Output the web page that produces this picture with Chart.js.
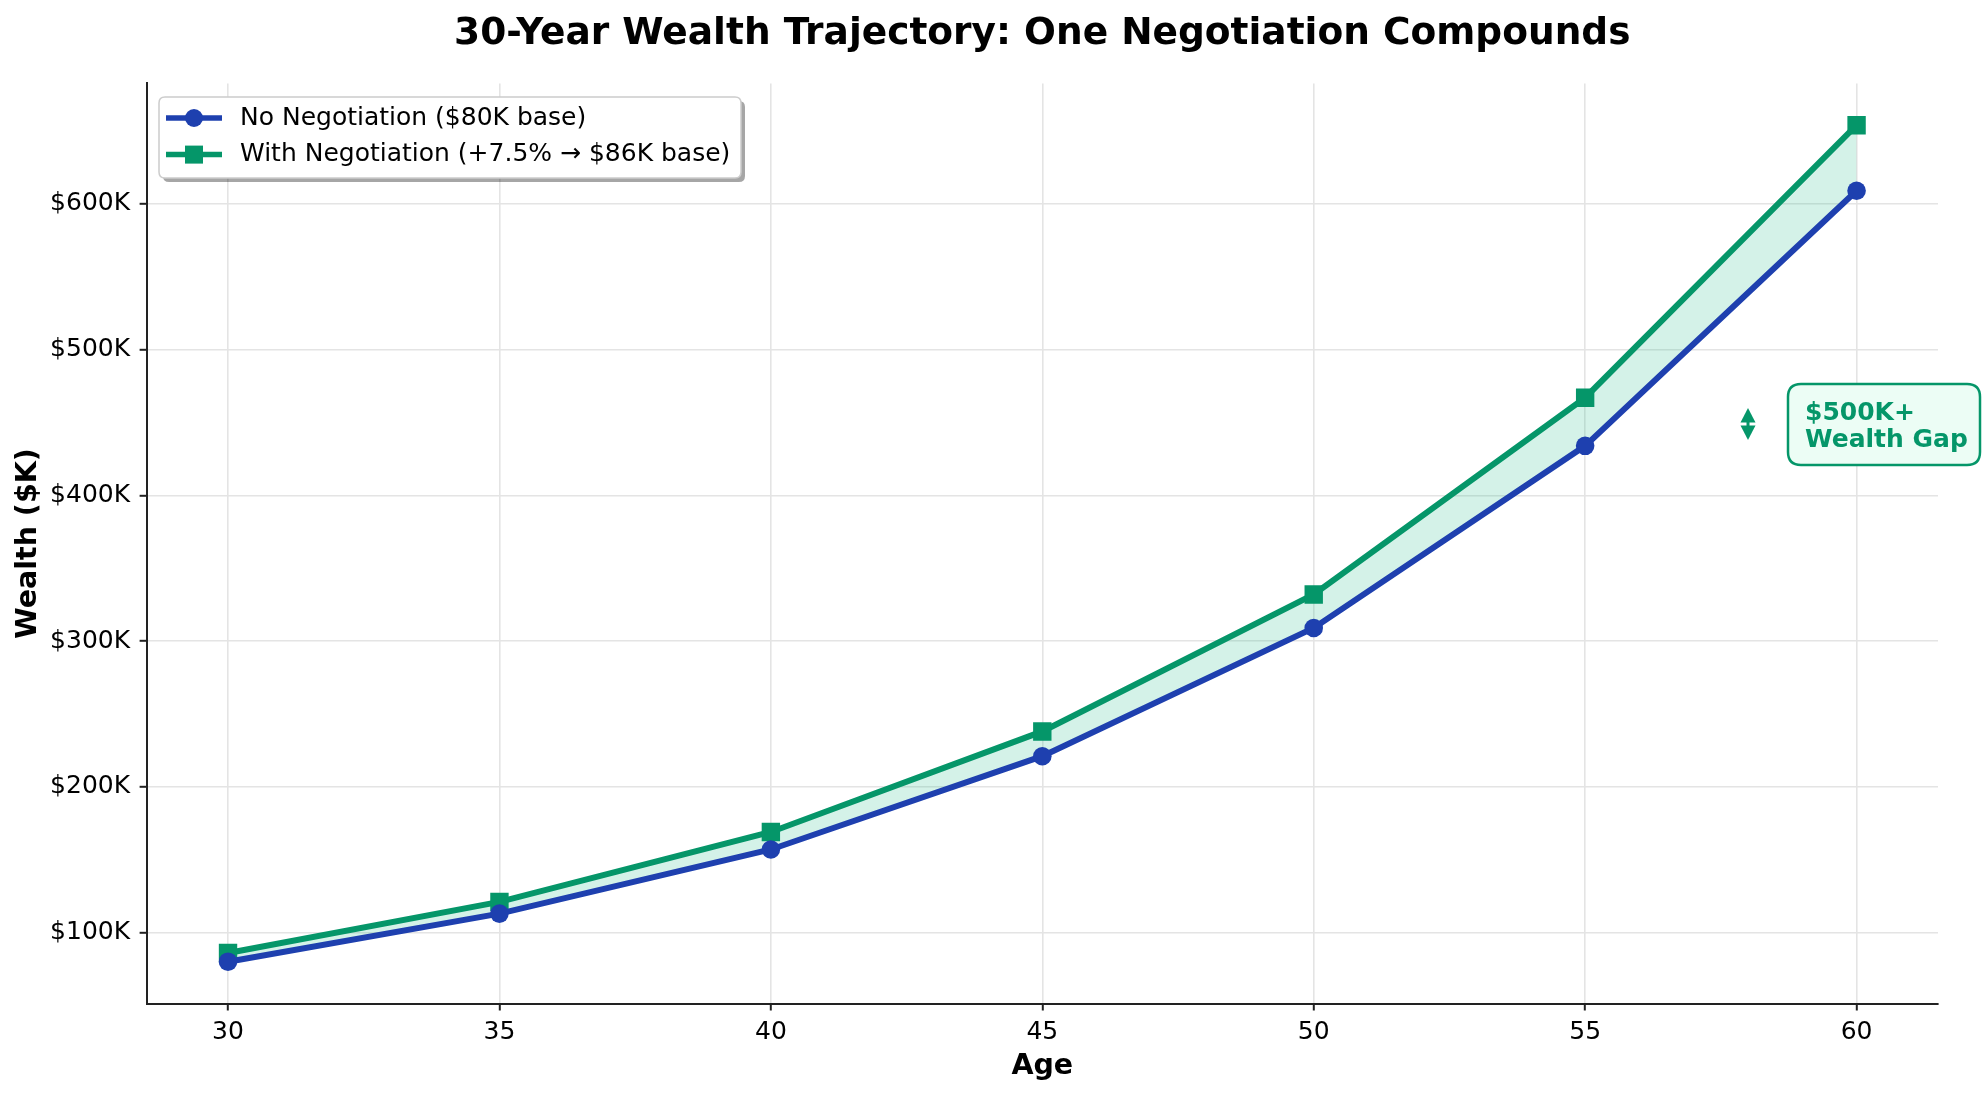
<!DOCTYPE html>
<html><head><meta charset="utf-8">
<script src="https://cdn.jsdelivr.net/npm/chart.js@4/dist/chart.umd.min.js"></script>
<style>html,body{margin:0;padding:0;background:#fff;} canvas{display:block;}</style>
</head><body>
<canvas id="c" width="1982" height="1094"></canvas>
<script>
const ages = [30, 35, 40, 45, 50, 55, 60];
const noNegotiation = [80, 113, 157, 221, 309, 434, 609];
const withNegotiation = [86, 121, 169, 238, 332, 467, 654];
const xTicks = [30, 35, 40, 45, 50, 55, 60];
const yTicks = [100, 200, 300, 400, 500, 600];
const seriesLabels = ['No Negotiation ($80K base)', 'With Negotiation (+7.5% \u2192 $86K base)'];
const titleText = '30-Year Wealth Trajectory: One Negotiation Compounds';
const xLabel = 'Age';
const yLabel = 'Wealth ($K)';
const gapArrowAge = 58;
const gapArrowRange = [438, 460];
const gapLabel = ['$500K+', 'Wealth Gap'];

const BLUE = '#1e40af', GREEN = '#059669', FONT = '"DejaVu Sans", sans-serif';

function roundRect(ctx, x, y, w, h, r) {
  ctx.beginPath();
  ctx.moveTo(x + r, y);
  ctx.lineTo(x + w - r, y); ctx.quadraticCurveTo(x + w, y, x + w, y + r);
  ctx.lineTo(x + w, y + h - r); ctx.quadraticCurveTo(x + w, y + h, x + w - r, y + h);
  ctx.lineTo(x + r, y + h); ctx.quadraticCurveTo(x, y + h, x, y + h - r);
  ctx.lineTo(x, y + r); ctx.quadraticCurveTo(x, y, x + r, y);
  ctx.closePath();
}

const overlay = {
  id: 'overlay',
  afterDraw(chart) {
    const ctx = chart.ctx, ca = chart.chartArea, xs = chart.scales.x, ys = chart.scales.y;
    const cx = (ca.left + ca.right) / 2, cy = (ca.top + ca.bottom) / 2;
    ctx.save();
    // title
    ctx.fillStyle = '#000';
    ctx.textAlign = 'center'; ctx.textBaseline = 'alphabetic';
    ctx.font = 'bold 37.5px ' + FONT;
    ctx.fillText(titleText, cx, 44);
    // axis labels
    ctx.font = 'bold 28.5px ' + FONT;
    ctx.fillText(xLabel, cx, 1074);
    ctx.save();
    ctx.translate(36, cy); ctx.rotate(-Math.PI / 2);
    ctx.fillText(yLabel, 0, 0);
    ctx.restore();

    // legend
    const lx = 159, ly = 97, lw = 582, lh = 81;
    ctx.fillStyle = 'rgba(0,0,0,0.35)';
    roundRect(ctx, lx + 4, ly + 4, lw, lh, 6); ctx.fill();
    ctx.fillStyle = '#fff';
    roundRect(ctx, lx, ly, lw, lh, 6); ctx.fill();
    ctx.strokeStyle = '#cccccc'; ctx.lineWidth = 1.5; ctx.stroke();
    const rows = [118, 154.6];
    chart.data.datasets.forEach((ds, i) => {
      const y = rows[i];
      ctx.strokeStyle = ds.borderColor; ctx.lineWidth = 5.5;
      ctx.beginPath(); ctx.moveTo(166, y); ctx.lineTo(222, y); ctx.stroke();
      ctx.fillStyle = ds.borderColor;
      if (ds.pointStyle === 'rect') {
        ctx.fillRect(194 - 9, y - 9, 18, 18);
      } else {
        ctx.beginPath(); ctx.arc(194, y, 9, 0, Math.PI * 2); ctx.fill();
      }
      ctx.fillStyle = '#000'; ctx.font = '25px ' + FONT;
      ctx.textAlign = 'left'; ctx.textBaseline = 'middle';
      ctx.fillText(ds.label, 240, y);
    });

    // gap arrow
    const ax = xs.getPixelForValue(gapArrowAge);
    const yTop = ys.getPixelForValue(gapArrowRange[1]);
    const yBot = ys.getPixelForValue(gapArrowRange[0]);
    const mid = (yTop + yBot) / 2;
    ctx.fillStyle = GREEN; ctx.strokeStyle = GREEN; ctx.lineWidth = 3;
    ctx.beginPath(); ctx.moveTo(ax, yTop); ctx.lineTo(ax + 7.5, mid - 1.5); ctx.lineTo(ax - 7.5, mid - 1.5); ctx.closePath(); ctx.fill();
    ctx.beginPath(); ctx.moveTo(ax, yBot); ctx.lineTo(ax + 7.5, mid + 1.5); ctx.lineTo(ax - 7.5, mid + 1.5); ctx.closePath(); ctx.fill();
    ctx.beginPath(); ctx.moveTo(ax, mid - 3); ctx.lineTo(ax, mid + 3); ctx.stroke();

    // gap label box
    const bx = ax + 40, by = mid - 40, bw = 192, bh = 81;
    ctx.fillStyle = '#ecfdf5';
    roundRect(ctx, bx, by, bw, bh, 13); ctx.fill();
    ctx.strokeStyle = GREEN; ctx.lineWidth = 2.5; ctx.stroke();
    ctx.fillStyle = GREEN; ctx.font = 'bold 25px ' + FONT;
    ctx.textAlign = 'left'; ctx.textBaseline = 'alphabetic';
    ctx.fillText(gapLabel[0], bx + 17, by + 36);
    ctx.fillText(gapLabel[1], bx + 17, by + 63);
    ctx.restore();
  }
};

new Chart(document.getElementById('c'), {
  type: 'line',
  data: {
    datasets: [
      {
        label: seriesLabels[0],
        data: ages.map((a, i) => ({ x: a, y: noNegotiation[i] })),
        borderColor: BLUE, backgroundColor: BLUE,
        borderWidth: 6, pointStyle: 'circle', pointRadius: 9.3,
        pointBackgroundColor: BLUE, pointBorderWidth: 0, fill: false, tension: 0
      },
      {
        label: seriesLabels[1],
        data: ages.map((a, i) => ({ x: a, y: withNegotiation[i] })),
        borderColor: GREEN, backgroundColor: 'rgba(16,185,129,0.18)',
        borderWidth: 6, pointStyle: 'rect', pointRadius: 13,
        pointBackgroundColor: GREEN, pointBorderWidth: 0, fill: '-1', tension: 0
      }
    ]
  },
  options: {
    responsive: false, animation: false, devicePixelRatio: 1,
    layout: { padding: { left: 0, right: 44, top: 83.4, bottom: 0 } },
    plugins: {
      legend: { display: false }, title: { display: false }, tooltip: { enabled: false },
      filler: { drawTime: 'beforeDatasetsDraw' }
    },
    scales: {
      x: {
        type: 'linear', min: 28.5, max: 61.5,
        afterBuildTicks: s => { s.ticks = xTicks.map(v => ({ value: v })); },
        afterFit: s => { s.height = 90.5; },
        grid: { color: '#e4e4e4', lineWidth: 1.6, tickColor: '#222', tickWidth: 2, tickLength: 7 },
        border: { color: '#222', width: 2 },
        ticks: { color: '#000', font: { family: FONT, size: 25 }, padding: 7, maxRotation: 0, callback: v => String(v) }
      },
      y: {
        type: 'linear', min: 51.3, max: 682.7,
        afterBuildTicks: s => { s.ticks = yTicks.map(v => ({ value: v })); },
        afterFit: s => { s.width = 146.6; },
        grid: { color: '#e4e4e4', lineWidth: 1.6, tickColor: '#222', tickWidth: 2, tickLength: 7 },
        border: { color: '#222', width: 2 },
        ticks: { color: '#000', font: { family: FONT, size: 25 }, padding: 9.5, callback: v => '$' + v + 'K' }
      }
    }
  },
  plugins: [overlay]
});
</script>
</body></html>
